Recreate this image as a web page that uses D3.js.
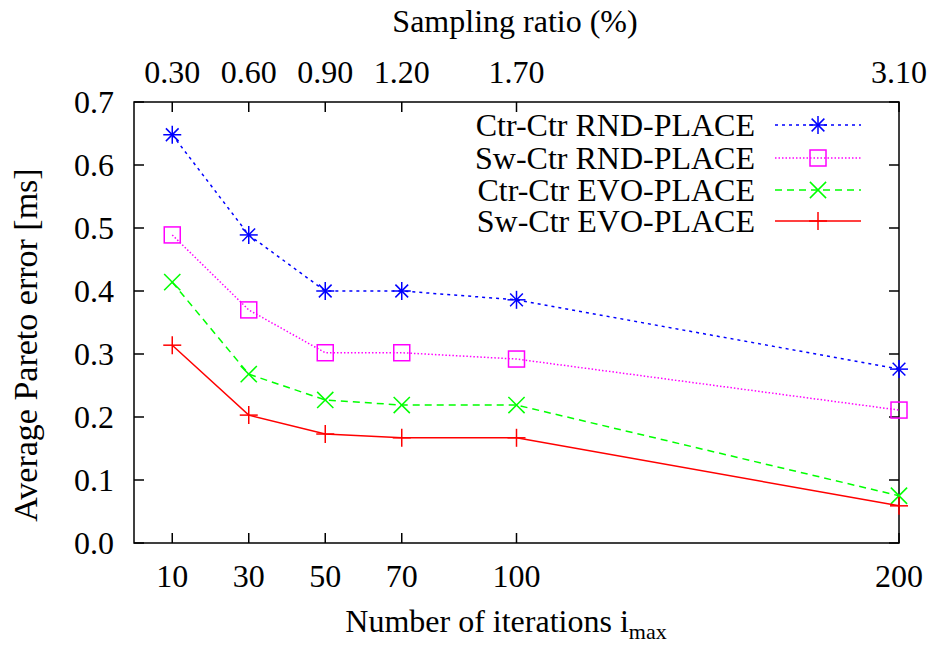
<!DOCTYPE html>
<html>
<head>
<meta charset="utf-8">
<script src="https://cdn.jsdelivr.net/npm/d3@7"></script>
<style>
  body { margin: 0; background: #fff; }
  text { font-family: "Liberation Serif", "Times New Roman", serif; fill: #000; }
</style>
</head>
<body>
<div id="chart"></div>
<script>
// Data
var iterations = [10, 30, 50, 70, 100, 200];
var samplingRatio = ['0.30', '0.60', '0.90', '1.20', '1.70', '3.10'];
var yTicks = [0.0, 0.1, 0.2, 0.3, 0.4, 0.5, 0.6, 0.7];

var ctrCtrRnd = [0.648, 0.489, 0.400, 0.400, 0.386, 0.276];
var swCtrRnd  = [0.489, 0.370, 0.302, 0.302, 0.292, 0.211];
var ctrCtrEvo = [0.414, 0.268, 0.227, 0.219, 0.219, 0.075];
var swCtrEvo  = [0.314, 0.203, 0.173, 0.167, 0.167, 0.059];

var seriesNames = ['Ctr-Ctr RND-PLACE', 'Sw-Ctr RND-PLACE', 'Ctr-Ctr EVO-PLACE', 'Sw-Ctr EVO-PLACE'];

var series = [
  { name: seriesNames[0], values: ctrCtrRnd, color: '#0000ff', dash: '3,4', marker: 'star' },
  { name: seriesNames[1], values: swCtrRnd,  color: '#ff00ff', dash: '1.5,2', marker: 'square' },
  { name: seriesNames[2], values: ctrCtrEvo, color: '#00ff00', dash: '7,5', marker: 'cross' },
  { name: seriesNames[3], values: swCtrEvo,  color: '#ff0000', dash: null, marker: 'plus' }
];

var width = 933, height = 646;
var plotLeft = 134, plotRight = 899, plotTop = 102, plotBottom = 543;
var fontSize = 32;

var svg = d3.select('#chart')
  .append('svg')
  .attr('width', width)
  .attr('height', height);

var x = d3.scaleLinear().domain([0, 200]).range([plotLeft, plotRight]);
var y = d3.scaleLinear().domain([0, 0.7]).range([plotBottom, plotTop]);

var tickLen = 10;
var axisG = svg.append('g');

// Frame
axisG.append('rect')
  .attr('x', plotLeft).attr('y', plotTop)
  .attr('width', plotRight - plotLeft).attr('height', plotBottom - plotTop)
  .attr('fill', 'none').attr('stroke', '#000').attr('stroke-width', 1.5);

// Y ticks (left and mirrored right)
yTicks.forEach(function(t) {
  axisG.append('line')
    .attr('x1', plotLeft).attr('x2', plotLeft + tickLen)
    .attr('y1', y(t)).attr('y2', y(t))
    .attr('stroke', '#000').attr('stroke-width', 1.5);
  axisG.append('line')
    .attr('x1', plotRight).attr('x2', plotRight - tickLen)
    .attr('y1', y(t)).attr('y2', y(t))
    .attr('stroke', '#000').attr('stroke-width', 1.5);
  axisG.append('text')
    .attr('x', plotLeft - 20).attr('y', y(t))
    .attr('dy', '0.35em')
    .attr('text-anchor', 'end')
    .attr('font-size', fontSize)
    .text(d3.format('.1f')(t));
});

// X ticks (bottom and top)
iterations.forEach(function(it, i) {
  axisG.append('line')
    .attr('x1', x(it)).attr('x2', x(it))
    .attr('y1', plotBottom).attr('y2', plotBottom - tickLen)
    .attr('stroke', '#000').attr('stroke-width', 1.5);
  axisG.append('line')
    .attr('x1', x(it)).attr('x2', x(it))
    .attr('y1', plotTop).attr('y2', plotTop + tickLen)
    .attr('stroke', '#000').attr('stroke-width', 1.5);
  axisG.append('text')
    .attr('x', x(it)).attr('y', 587)
    .attr('text-anchor', 'middle')
    .attr('font-size', fontSize)
    .text(it);
  axisG.append('text')
    .attr('x', x(it)).attr('y', 83)
    .attr('text-anchor', 'middle')
    .attr('font-size', fontSize)
    .text(samplingRatio[i]);
});

// Axis titles
svg.append('text')
  .attr('x', 515).attr('y', 32)
  .attr('text-anchor', 'middle')
  .attr('font-size', fontSize)
  .text('Sampling ratio (%)');

var xl = svg.append('text')
  .attr('x', 506).attr('y', 632)
  .attr('text-anchor', 'middle')
  .attr('font-size', fontSize);
xl.append('tspan').text('Number of iterations i');
xl.append('tspan').attr('font-size', 22).attr('dy', 7).text('max');

svg.append('text')
  .attr('transform', 'translate(37,345) rotate(-90)')
  .attr('text-anchor', 'middle')
  .attr('font-size', 34)
  .text('Average Pareto error [ms]');

// Markers
function drawMarker(g, type, cx, cy, color) {
  var r = 9;
  if (type === 'star') {
    [[0, 1], [1, 0], [0.707, 0.707], [0.707, -0.707]].forEach(function(v) {
      g.append('line')
        .attr('x1', cx - v[0] * r).attr('y1', cy - v[1] * r)
        .attr('x2', cx + v[0] * r).attr('y2', cy + v[1] * r)
        .attr('stroke', color).attr('stroke-width', 1.5);
    });
  } else if (type === 'square') {
    g.append('rect')
      .attr('x', cx - 8).attr('y', cy - 8)
      .attr('width', 16).attr('height', 16)
      .attr('fill', 'none').attr('stroke', color).attr('stroke-width', 1.5);
  } else if (type === 'cross') {
    [[1, 1], [1, -1]].forEach(function(v) {
      g.append('line')
        .attr('x1', cx - v[0] * r * 0.9).attr('y1', cy - v[1] * r * 0.9)
        .attr('x2', cx + v[0] * r * 0.9).attr('y2', cy + v[1] * r * 0.9)
        .attr('stroke', color).attr('stroke-width', 1.5);
    });
  } else {
    g.append('line')
      .attr('x1', cx - r).attr('x2', cx + r).attr('y1', cy).attr('y2', cy)
      .attr('stroke', color).attr('stroke-width', 1.5);
    g.append('line')
      .attr('x1', cx).attr('x2', cx).attr('y1', cy - r).attr('y2', cy + r)
      .attr('stroke', color).attr('stroke-width', 1.5);
  }
}

var line = d3.line()
  .x(function(d, i) { return x(iterations[i]); })
  .y(function(d) { return y(d); });

series.forEach(function(s) {
  var g = svg.append('g');
  g.append('path')
    .attr('d', line(s.values))
    .attr('fill', 'none')
    .attr('stroke', s.color)
    .attr('stroke-width', 1.5)
    .attr('stroke-dasharray', s.dash);
  s.values.forEach(function(v, i) {
    drawMarker(g, s.marker, x(iterations[i]), y(v), s.color);
  });
});

// Legend
var legendY = [125, 158, 190, 221];
series.forEach(function(s, i) {
  var g = svg.append('g');
  g.append('text')
    .attr('x', 755).attr('y', legendY[i])
    .attr('dy', '0.35em')
    .attr('text-anchor', 'end')
    .attr('font-size', fontSize)
    .text(s.name);
  g.append('line')
    .attr('x1', 775).attr('x2', 861)
    .attr('y1', legendY[i]).attr('y2', legendY[i])
    .attr('stroke', s.color).attr('stroke-width', 1.5)
    .attr('stroke-dasharray', s.dash);
  drawMarker(g, s.marker, 818, legendY[i], s.color);
});
</script>
</body>
</html>
